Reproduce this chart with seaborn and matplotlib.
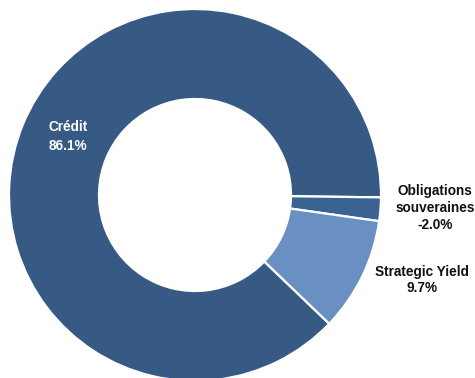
import matplotlib
matplotlib.use("Agg")
import matplotlib.pyplot as plt
import seaborn as sns

categories = ["Crédit", "Obligations\nsouveraines", "Strategic Yield"]
values = [86.1, -2.0, 9.7]
value_labels = ["86.1%", "-2.0%", "9.7%"]
colors = ["#375A85", "#3A6293", "#6A8FC3"]

sns.set_theme(style="white")
plt.rcParams["font.family"] = ["Liberation Sans", "DejaVu Sans"]

W, H = 475, 378
fig = plt.figure(figsize=(W / 100, H / 100), dpi=100)
cx, cy, R = 195, 195, 186
ax = fig.add_axes([(cx - R) / W, (H - cy - R) / H, 2 * R / W, 2 * R / H])

sizes = [abs(v) for v in values]
ax.pie(sizes, colors=colors, startangle=-43.8, counterclock=False, radius=1,
       wedgeprops=dict(width=1 - 96 / 186, edgecolor="white", linewidth=1.6))
ax.set_xlim(-1, 1)
ax.set_ylim(-1, 1)
ax.set_aspect("equal")
ax.axis("off")

def to_data(px, py):
    return (px - cx) / R, (cy - py) / R

# Credit label (inside, white)
x, y = to_data(68, 136.5)
ax.text(x, y, f"{categories[0]}\n{value_labels[0]}", color="white", fontsize=9.8,
        fontweight="bold", ha="center", va="center", linespacing=1.4)
# Obligations label
x, y = to_data(435, 208)
ax.text(x, y, f"{categories[1]}\n{value_labels[1]}", color="#111111", fontsize=9.8,
        fontweight="bold", ha="center", va="center", linespacing=1.25, clip_on=False)
# Strategic Yield label
x, y = to_data(422, 280)
ax.text(x, y, f"{categories[2]}\n{value_labels[2]}", color="#111111", fontsize=9.8,
        fontweight="bold", ha="center", va="center", linespacing=1.25, clip_on=False)

fig.savefig("out.png", dpi=100, facecolor="white")
